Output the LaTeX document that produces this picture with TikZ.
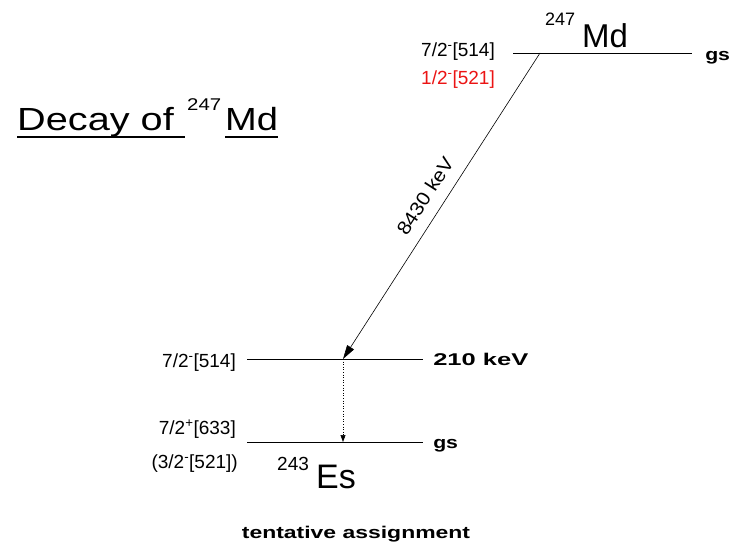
\documentclass[tikz,border=0pt]{standalone}
\usepackage{fontspec}
\setmainfont{Liberation Sans}
\usetikzlibrary{arrows.meta}
\begin{document}
\begin{tikzpicture}[x=1pt,y=-1pt,
  lvl/.style={line width=0.8pt},
  lab/.style={font=\fontsize{19}{21}\selectfont, inner sep=0pt},
  blab/.style={font=\fontsize{17}{19}\selectfont\bfseries, inner sep=0pt, anchor=base west},
  big/.style={font=\fontsize{33}{35}\selectfont, inner sep=0pt, anchor=base west},
  sup/.style={font=\fontsize{18}{20}\selectfont, inner sep=0pt, anchor=base west},
  uline/.style={line width=2.4pt}]
\useasboundingbox (0,0) rectangle (733,547);
% levels
\coordinate (t1) at (513,53); \coordinate (t2) at (692,53);
\coordinate (m1) at (247,359); \coordinate (m2) at (423,359);
\coordinate (b1) at (247,442); \coordinate (b2) at (423,442);
\coordinate (ts) at (540,53); \coordinate (me) at (343,359); \coordinate (be) at (343,442);
\draw[lvl] (t1) -- (t2);
\draw[lvl] (m1) -- (m2);
\draw[lvl] (b1) -- (b2);
% transitions
\draw[line width=0.6pt, -{Triangle[length=14pt,width=8pt]}] (ts) -- (me);
\draw[line width=0.6pt, dotted, -{Triangle[length=7pt,width=5pt]}] (me) -- (be);
\node[lab, rotate=57.2, xscale=1.1] (en) at (425,196) {8430 keV};
% top nucleus
\node[sup] (a247) at (545,25) {247};
\node[big] (md) at (582,47) {Md};
\node[blab, xscale=1.25] (gs1) at (705,60) {gs};
\node[lab, anchor=base east] (s1) at (495,56) {7/2\textsuperscript{-}[514]};
\node[lab, anchor=base east, text={rgb,255:red,235;green,20;blue,20}] (s2) at (495,84) {1/2\textsuperscript{-}[521]};
% middle
\node[blab, xscale=1.5] (e210) at (433,365) {210 keV};
\node[lab, anchor=base east] (s3) at (236,367) {7/2\textsuperscript{-}[514]};
% bottom
\node[blab, xscale=1.25] (gs2) at (433,448) {gs};
\node[lab, anchor=base east] (s4) at (236,434) {7/2\textsuperscript{+}[633]};
\node[lab, anchor=base east] (s5) at (238,468) {(3/2\textsuperscript{-}[521])};
\node[sup, font=\fontsize{19}{21}\selectfont] (a243) at (277,470) {243};
\node[big, font=\fontsize{34}{36}\selectfont] (es) at (316,488) {Es};
% title
\node[big, font=\fontsize{32}{34}\selectfont, xscale=1.24] (t1a) at (17,130) {Decay of};
\node[sup, font=\fontsize{17}{19}\selectfont, xscale=1.2] (t1b) at (187,110) {247};
\node[big, font=\fontsize{32}{34}\selectfont, xscale=1.19] (t1c) at (225,130) {Md};
\draw[uline] (17,137) -- (185,137);
\draw[uline] (225,137) -- (278,137);
\node[blab, anchor=base, xscale=1.35] (tent) at (356,538) {tentative assignment};
\end{tikzpicture}
\end{document}
